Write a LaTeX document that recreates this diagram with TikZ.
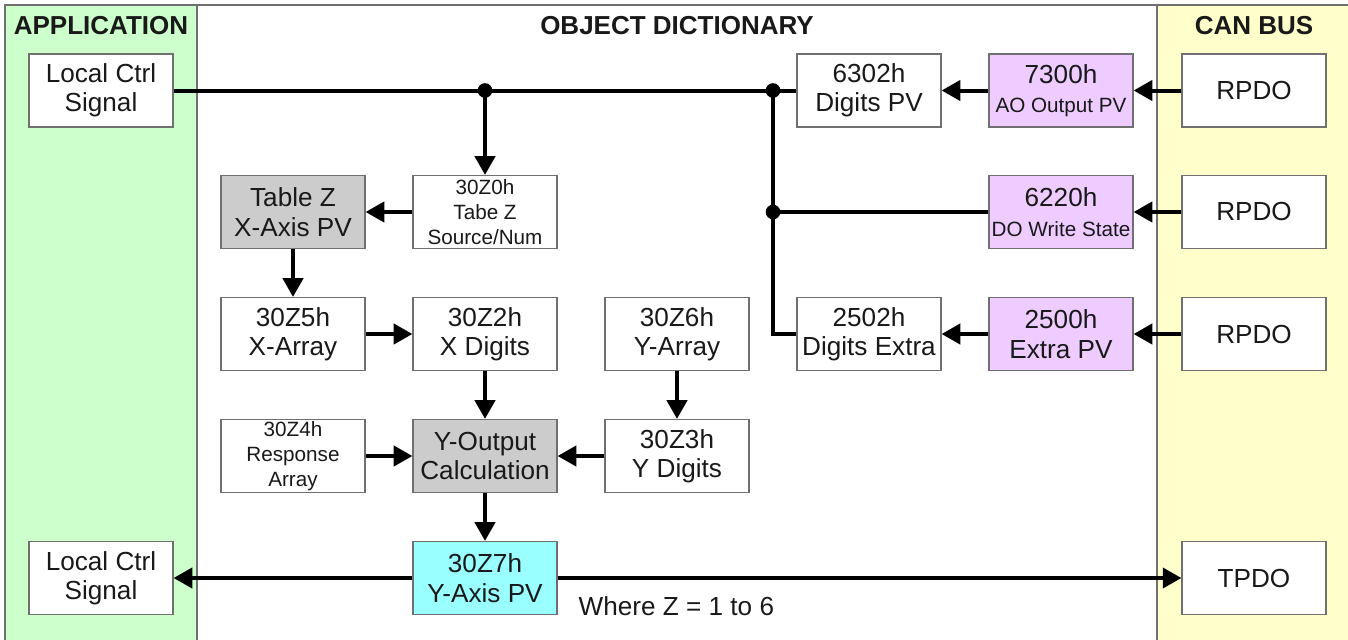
\documentclass[tikz,border=0pt]{standalone}
\usepackage{fontspec}
\setmainfont{Liberation Sans}
\usetikzlibrary{arrows.meta}
\definecolor{appgreen}{HTML}{CCFFCC}
\definecolor{canyellow}{HTML}{FFFFCC}
\definecolor{lilac}{HTML}{EECCFF}
\definecolor{calcgray}{HTML}{CCCCCC}
\definecolor{pvcyan}{HTML}{99FFFF}
\definecolor{frame}{HTML}{707070}
\tikzset{
  obj/.style={draw=frame, line width=0.9pt, fill=white, minimum width=108pt, minimum height=54.75pt,
    inner sep=0pt, align=center, font=\fontsize{19.6}{22}\selectfont, text=black!90},
  small/.style={font=\fontsize{15.5}{18.5}\selectfont},
  wire/.style={line width=3pt},
  flow/.style={line width=3pt, -{Triangle[length=14pt,width=15pt]}},
  dot/.style={circle, fill=black, inner sep=0pt, minimum size=11pt},
  title/.style={font=\fontsize{19.5}{22}\selectfont\bfseries, text=black!90}
}
\begin{document}
\begin{tikzpicture}[x=0.75pt,y=-0.75pt]
\useasboundingbox (0,0) rectangle (1348,639);
% columns
\fill[appgreen] (5,5) rectangle (197,645);
\fill[white] (197,5) rectangle (1157,645);
\fill[canyellow] (1157,5) rectangle (1352,645);
\draw[frame, line width=0.8pt] (5,645) -- (5,5) -- (1352,5);
\draw[frame, line width=0.8pt] (197,5) -- (197,645);
\draw[frame, line width=0.8pt] (1157,5) -- (1157,645);
% titles
\node[title] (tapp) at (101,26) {APPLICATION};
\node[title] (tod) at (677,26) {OBJECT DICTIONARY};
\node[title] (tcan) at (1254,26) {CAN BUS};
% boxes
\node[obj] (lc1) at (101,90.5) {Local Ctrl\\Signal};
\node[obj] (lc2) at (101,578) {Local Ctrl\\Signal};
\node[obj, fill=calcgray] (tz) at (293,212) {Table Z\\X-Axis PV};
\node[obj, small] (z0) at (485,212) {30Z0h\\Tabe Z\\Source/Num};
\node[obj] (z5) at (293,334) {30Z5h\\X-Array};
\node[obj] (z2) at (485,334) {30Z2h\\X Digits};
\node[obj] (z6) at (677,334) {30Z6h\\Y-Array};
\node[obj, small] (z4) at (293,456) {30Z4h\\Response\\Array};
\node[obj, fill=calcgray] (yo) at (485,456) {Y-Output\\Calculation};
\node[obj] (z3) at (677,456) {30Z3h\\Y Digits};
\node[obj, fill=pvcyan] (z7) at (485,578) {30Z7h\\Y-Axis PV};
\node[obj] (d6302) at (869,90.5) {6302h\\Digits PV};
\node[obj] (d2502) at (869,334) {2502h\\Digits Extra};
\node[obj, fill=lilac] (p7300) at (1061,90.5) {7300h\\{\fontsize{15.5}{18.5}\selectfont AO Output PV}};
\node[obj, fill=lilac] (p6220) at (1061,212) {6220h\\{\fontsize{15.5}{18.5}\selectfont DO Write State}};
\node[obj, fill=lilac] (p2500) at (1061,334) {2500h\\Extra PV};
\node[obj] (r1) at (1254,90.5) {RPDO};
\node[obj] (r2) at (1254,212) {RPDO};
\node[obj] (r3) at (1254,334) {RPDO};
\node[obj] (tp) at (1254,578) {TPDO};
\node[anchor=west, font=\fontsize{19.6}{22}\selectfont, text=black!90] (note) at (574,606) {Where Z = 1 to 6};
% junctions
\coordinate (j1) at (z0 |- lc1);
\coordinate (j2) at (773,90.5);
\coordinate (j3) at (773,212);
% top bus
\draw[wire] (lc1.east) -- (d6302.west);
\draw[wire] (j2) -- (j2 |- d2502.west) -- (d2502.west);
\draw[wire] (p6220.west) -- (j3);
\draw[flow] (j1) -- (z0.north);
\node[dot] (dj1) at (j1) {};
\node[dot] (dj2) at (j2) {};
\node[dot] (dj3) at (j3) {};
% flows
\draw[flow] (r1) -- (p7300);
\draw[flow] (p7300) -- (d6302);
\draw[flow] (r2) -- (p6220);
\draw[flow] (r3) -- (p2500);
\draw[flow] (p2500) -- (d2502);
\draw[flow] (z0) -- (tz);
\draw[flow] (tz) -- (z5);
\draw[flow] (z5) -- (z2);
\draw[flow] (z2) -- (yo);
\draw[flow] (z6) -- (z3);
\draw[flow] (z4) -- (yo);
\draw[flow] (z3) -- (yo);
\draw[flow] (yo) -- (z7);
\draw[flow] (z7) -- (lc2);
\draw[flow] (z7) -- (tp);
\end{tikzpicture}
\end{document}
